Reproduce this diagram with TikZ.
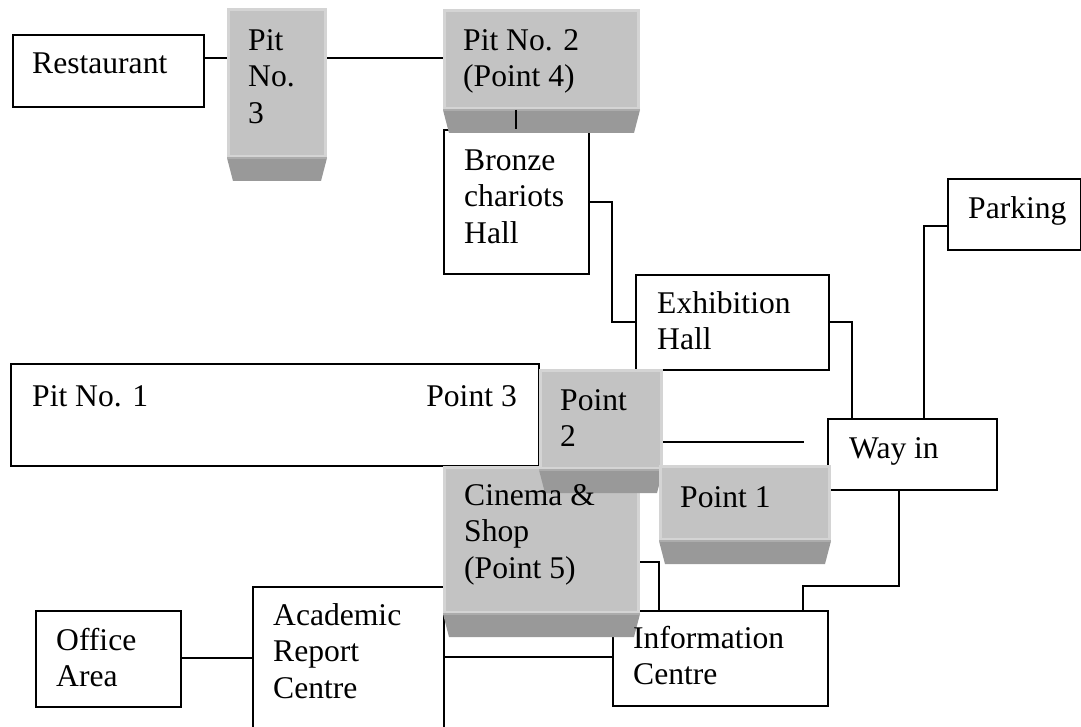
\documentclass[tikz,border=0pt]{standalone}
\usepackage{fontspec}
\setmainfont{Liberation Serif}
\usetikzlibrary{calc}

\definecolor{blockgrey}{RGB}{195,195,195}
\definecolor{blockedge}{RGB}{212,212,212}
\definecolor{bevelgrey}{RGB}{153,153,153}
\definecolor{bevelstrip}{RGB}{172,172,172}

\tikzset{
  box/.style={draw, line width=1.8, fill=white, rectangle, inner sep=0, anchor=north west},
  greybox/.style={draw=blockedge, line width=3, fill=blockgrey, rectangle, inner sep=0, anchor=north west},
  txt/.style={anchor=north west, inner sep=0, align=left, font=\fontsize{31.6}{36.5}\selectfont},
  link/.style={line width=1.8}
}

% strut that fixes the top of a text block 25 units above its first baseline
\newcommand\tstrut{\rule{0pt}{25pt}}

% grey raised block: name, left, top, width, height
\newcommand\greyblock[5]{%
  \node[greybox, minimum width=#4, minimum height=#5] (#1) at (#2,#3) {};
  \fill[bevelgrey] (#1.south west) -- (#1.south east) -- ++(-6,23) -- ($(#1.south west)+(6,23)$) -- cycle;
  \draw[bevelstrip, line width=2] (#1.south west) -- (#1.south east);
}

\begin{document}
\begin{tikzpicture}[x=1pt, y=-1pt]
\useasboundingbox (0,0) rectangle (1081,727);

% plain boxes
\node[box, minimum width=191, minimum height=72]  (rest)   at (12,34)   {};
\node[box, minimum width=145, minimum height=144] (bronze) at (443,129) {};
\node[box, minimum width=193, minimum height=95]  (exhib)  at (635,274) {};
\node[box, minimum width=133, minimum height=71]  (park)   at (947,178) {};
\node[box, minimum width=169, minimum height=71]  (wayin)  at (827,418) {};
\node[box, minimum width=528, minimum height=102] (pit1)   at (10,363)  {};
\node[box, minimum width=215, minimum height=95]  (info)   at (612,610) {};
\node[box, minimum width=191, minimum height=160] (acad)   at (252,586) {};
\node[box, minimum width=145, minimum height=96]  (office) at (35,610)  {};

% raised grey blocks
\greyblock{pit3}{227}{8}{97}{147}
\greyblock{pit2}{443}{9}{194}{98}
\greyblock{cinema}{443}{466}{194}{145}
\greyblock{point2}{539}{369}{121}{98}
\greyblock{point1}{659}{465}{169}{73}

% connectors
\coordinate (p2end) at (804,442);
\draw[link] (rest.east |- 0,58) -- (pit3.west |- 0,58);
\draw[link] (pit3.east |- 0,58) -- (pit2.west |- 0,58);
\draw[link] (pit2.south -| 516,0) -- (bronze.north -| 516,0);
\draw[link] (bronze.east |- 0,202) -- (612,202) -- (612,322) -- (exhib.west |- 0,322);
\draw[link] (exhib.east |- 0,322) -- (852,322) -- (wayin.north -| 852,0);
\draw[link] (park.west |- 0,226) -- (924,226) -- (wayin.north -| 924,0);
\draw[link] (point2.east |- p2end) -- (p2end);
\draw[link] (wayin.south -| 899,0) -- (899,586) -- (803,586) -- (info.north -| 803,0);
\draw[link] (cinema.east |- 0,562) -- (659,562) -- (info.north -| 659,0);
\draw[link] (office.east |- 0,658) -- (acad.west |- 0,658);
\draw[link] (acad.east |- 0,657) -- (info.west |- 0,657);

% texts
\node[txt] (rest-t)   at (32,48)   {\tstrut Restaurant};
\node[txt] (pit3-t)   at (248,25)  {\tstrut Pit\\No.\\3};
\node[txt] (pit2-t)   at (463,25)  {\tstrut Pit No. 2\\(Point 4)};
\node[txt] (bronze-t) at (464,145) {\tstrut Bronze\\chariots\\Hall};
\node[txt] (exhib-t)  at (657,288) {\tstrut Exhibition\\Hall};
\node[txt] (park-t)   at (968,193) {\tstrut Parking};
\node[txt] (wayin-t)  at (849,433) {\tstrut Way in};
\node[txt] (pit1-t)   at (32,381)  {\tstrut Pit No. 1};
\node[txt, anchor=north east] (point3-t) at (517,381) {\tstrut Point 3};
\node[txt] (point2-t) at (560,385) {\tstrut Point\\2};
\node[txt] (point1-t) at (680,482) {\tstrut Point 1};
\node[txt] (cinema-t) at (464,480) {\tstrut Cinema \&\\Shop\\(Point 5)};
\node[txt] (info-t)   at (633,623) {\tstrut Information\\Centre};
\node[txt] (acad-t)   at (273,600) {\tstrut Academic\\Report\\Centre};
\node[txt] (office-t) at (56,625)  {\tstrut Office\\Area};
\end{tikzpicture}
\end{document}
